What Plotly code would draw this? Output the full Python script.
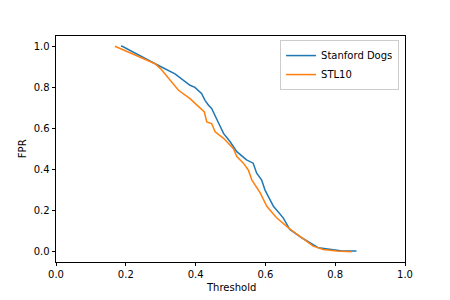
import plotly.graph_objects as go

dogs_threshold = [0.186, 0.19, 0.284, 0.341, 0.384, 0.398, 0.417, 0.427, 0.437, 0.446,
                  0.462, 0.48, 0.499, 0.518, 0.546, 0.565, 0.575, 0.589, 0.599, 0.623, 0.651,
                  0.670, 0.704, 0.752, 0.80, 0.82, 0.861]
dogs_fpr = [1.0, 1.0, 0.915, 0.866, 0.81, 0.80, 0.77, 0.737, 0.713, 0.697,
            0.64, 0.576, 0.535, 0.487, 0.447, 0.431, 0.382, 0.35, 0.30, 0.221, 0.165,
            0.108, 0.068, 0.019, 0.008, 0.003, 0.003]

stl_threshold = [0.169, 0.284, 0.30, 0.351, 0.384, 0.413, 0.425, 0.432, 0.446, 0.456,
                 0.48, 0.508, 0.518, 0.537, 0.551, 0.561, 0.585, 0.604, 0.632, 0.666,
                 0.699, 0.737, 0.766, 0.804, 0.847]
stl_fpr = [1.0, 0.915, 0.89, 0.786, 0.745, 0.697, 0.68, 0.632, 0.624, 0.584,
           0.552, 0.503, 0.463, 0.431, 0.398, 0.35, 0.286, 0.221, 0.165, 0.116,
           0.076, 0.027, 0.011, 0.003, 0.0]

tick_vals = [0.0, 0.2, 0.4, 0.6, 0.8, 1.0]

fig = go.Figure()
fig.add_trace(go.Scatter(x=dogs_threshold, y=dogs_fpr, mode="lines", name="Stanford Dogs",
                         line=dict(color="#1f77b4", width=1.5)))
fig.add_trace(go.Scatter(x=stl_threshold, y=stl_fpr, mode="lines", name="STL10",
                         line=dict(color="#ff7f0e", width=1.5)))

axis_common = dict(showline=True, linecolor="black", linewidth=0.8, mirror=True,
                   ticks="outside", ticklen=3.5, tickwidth=0.8, tickcolor="black",
                   showgrid=False, zeroline=False, tickfont=dict(size=10, color="black"),
                   tickformat=".1f", tickvals=tick_vals, automargin=False)

fig.update_xaxes(range=[0, 1.0], **axis_common)
fig.update_yaxes(range=[-0.05, 1.05], **axis_common)

fig.add_annotation(text="Threshold", xref="paper", yref="paper", x=0.5, y=-0.115,
                   xanchor="center", yanchor="middle", showarrow=False,
                   font=dict(size=10, color="black"))
fig.add_annotation(text="FPR", xref="paper", yref="paper", x=-0.097, y=0.5,
                   xanchor="center", yanchor="middle", showarrow=False, textangle=-90,
                   font=dict(size=10, color="black"))

fig.update_layout(
    width=450, height=300,
    margin=dict(l=56, r=45, t=36, b=38),
    paper_bgcolor="white", plot_bgcolor="white",
    font=dict(family="DejaVu Sans", size=10, color="black"),
    showlegend=True,
    legend=dict(x=0.983, y=0.982, xanchor="right", yanchor="top",
                bgcolor="rgba(255,255,255,0.8)", bordercolor="#cccccc", borderwidth=1,
                font=dict(size=10, color="black"), tracegroupgap=0, itemwidth=30),
)

fig.write_html("out.html", config={"displayModeBar": False},
               post_script="document.body.style.margin='0';")
